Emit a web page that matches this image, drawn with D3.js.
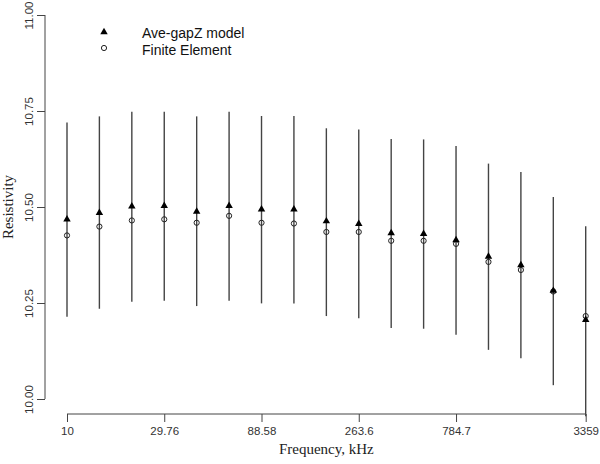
<!DOCTYPE html>
<html>
<head>
<meta charset="utf-8">
<script src="https://cdn.jsdelivr.net/npm/d3@7"></script>
<style>
  body { margin: 0; background: #fff; }
  svg { display: block; }
</style>
</head>
<body>
<script>
// frequencies (kHz), log spaced
var freq = [10, 14.38, 20.69, 29.76, 42.81, 61.58, 88.58, 127.4, 183.3, 263.6,
            379.2, 545.5, 784.7, 1129, 1624, 2336, 3359];
var model = [10.468, 10.485, 10.502, 10.503, 10.488, 10.503, 10.494, 10.494, 10.463,
             10.456, 10.432, 10.430, 10.414, 10.371, 10.349, 10.282, 10.206];
var fe = [10.426, 10.449, 10.465, 10.468, 10.459, 10.477, 10.459, 10.457, 10.435,
          10.435, 10.412, 10.412, 10.404, 10.357, 10.336, 10.280, 10.216];
var upper = [10.720, 10.736, 10.748, 10.748, 10.736, 10.748, 10.737, 10.737, 10.705,
             10.702, 10.677, 10.676, 10.659, 10.613, 10.591, 10.526, 10.450];
var lower = [10.214, 10.235, 10.253, 10.256, 10.242, 10.256, 10.249, 10.249, 10.216,
             10.210, 10.185, 10.183, 10.167, 10.128, 10.106, 10.036, 9.955];
var xTicks = [10, 29.76, 88.58, 263.6, 784.7, 3359];
var yTicks = [10.00, 10.25, 10.50, 10.75, 11.00];

var width = 600, height = 464;

var svg = d3.select("body").append("svg")
    .attr("width", width)
    .attr("height", height);

var x = d3.scaleLog()
    .domain([10, 3359])
    .range([67, 585.7]);

var y = d3.scaleLinear()
    .domain([10, 11])
    .range([399, 15]);

var sans = "Arial, 'Liberation Sans', sans-serif";
var serif = "'Times New Roman', 'Liberation Serif', serif";

// x axis
var xAxis = svg.append("g")
    .attr("transform", "translate(0,414)")
    .call(d3.axisBottom(x).tickValues(xTicks).tickFormat(function (d) { return d; })
        .tickSize(8).tickSizeOuter(0));
xAxis.select(".domain").attr("stroke", "#444").attr("d", "M" + x(10) + ",0H" + x(3359));
xAxis.selectAll(".tick line").attr("stroke", "#444");
xAxis.selectAll(".tick text")
    .attr("font-family", sans)
    .attr("font-size", "11.5px")
    .attr("fill", "#333")
    .attr("y", 13);

// y axis
var yAxis = svg.append("g")
    .attr("transform", "translate(45,0)")
    .call(d3.axisLeft(y).tickValues(yTicks).tickFormat(d3.format(".2f"))
        .tickSize(8).tickSizeOuter(0));
yAxis.select(".domain").attr("stroke", "#444").attr("d", "M0," + y(10) + "V" + y(11));
yAxis.selectAll(".tick line").attr("stroke", "#444");
yAxis.selectAll(".tick text")
    .attr("font-family", sans)
    .attr("font-size", "11.5px")
    .attr("fill", "#333")
    .attr("x", 0)
    .attr("dy", 0)
    .attr("text-anchor", "middle")
    .attr("transform", "translate(-12,0) rotate(-90)");

// axis titles
svg.append("text")
    .attr("x", (x(10) + x(3359)) / 2)
    .attr("y", 454)
    .attr("text-anchor", "middle")
    .attr("font-family", serif)
    .attr("font-size", "15px")
    .attr("fill", "#222")
    .text("Frequency, kHz");

svg.append("text")
    .attr("transform", "translate(13," + (y(10) + y(11)) / 2 + ") rotate(-90)")
    .attr("text-anchor", "middle")
    .attr("font-family", serif)
    .attr("font-size", "15px")
    .attr("fill", "#222")
    .text("Resistivity");

// error bars
svg.selectAll(".bar")
    .data(freq)
    .enter()
    .append("line")
    .attr("class", "bar")
    .attr("x1", function (d) { return x(d); })
    .attr("x2", function (d) { return x(d); })
    .attr("y1", function (d, i) { return y(upper[i]); })
    .attr("y2", function (d, i) { return y(lower[i]); })
    .attr("stroke", "#444")
    .attr("stroke-width", 1.4);

var tri = d3.symbol().type(d3.symbolTriangle).size(24);

// finite element points
svg.selectAll(".fe")
    .data(freq)
    .enter()
    .append("circle")
    .attr("class", "fe")
    .attr("cx", function (d) { return x(d); })
    .attr("cy", function (d, i) { return y(fe[i]); })
    .attr("r", 2.6)
    .attr("fill", "none")
    .attr("stroke", "#222")
    .attr("stroke-width", 1);

// model points
svg.selectAll(".model")
    .data(freq)
    .enter()
    .append("path")
    .attr("class", "model")
    .attr("d", tri)
    .attr("transform", function (d, i) { return "translate(" + x(d) + "," + y(model[i]) + ")"; })
    .attr("fill", "#000");

// legend
var legend = svg.append("g");
legend.append("path")
    .attr("d", tri)
    .attr("transform", "translate(104,32)")
    .attr("fill", "#000");
legend.append("circle")
    .attr("cx", 104)
    .attr("cy", 48)
    .attr("r", 2.6)
    .attr("fill", "none")
    .attr("stroke", "#222");
legend.append("text")
    .attr("x", 142)
    .attr("y", 38)
    .attr("font-family", sans)
    .attr("font-size", "14px")
    .attr("fill", "#111")
    .text("Ave-gapZ model");
legend.append("text")
    .attr("x", 142)
    .attr("y", 55)
    .attr("font-family", sans)
    .attr("font-size", "14px")
    .attr("fill", "#111")
    .text("Finite Element");
</script>
</body>
</html>
